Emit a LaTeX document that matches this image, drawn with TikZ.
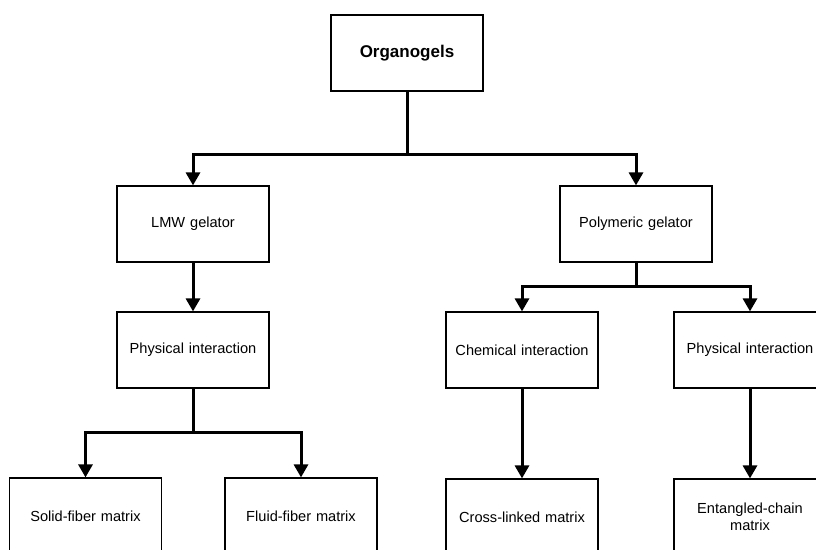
\documentclass[tikz,border=0pt]{standalone}
\usepackage{fontspec}
\setmainfont{Liberation Sans}
\usetikzlibrary{arrows.meta}

\begin{document}
\begin{tikzpicture}[x=1pt, y=-1pt,
		box/.style={draw, line width=1.2pt, minimum width=152pt, minimum height=76pt, text width=134pt, align=center, inner sep=0pt, font=\fontsize{14.6}{17}\selectfont},
		link/.style={line width=3pt, -{Triangle[width=14pt, length=13pt]}}]
		\useasboundingbox ( 0, 0 ) rectangle ( 816, 549 );
		\clip ( 0, 0 ) rectangle ( 816, 549 );

		% корень
		\node [box, font=\fontsize{17}{20}\selectfont\bfseries] (org) at ( 407, 53 ) {Organogels};

		% гелеобразователи
		\node [box] (lmw) at ( 193, 224 ) {LMW gelator};
		\node [box] (poly) at ( 636, 224 ) {Polymeric gelator};

		% взаимодействия
		\node [box] (phys1) at ( 193, 350 ) {Physical interaction};
		\node [box] (chem) at ( 522, 350 ) {Chemical interaction};
		\node [box] (phys2) at ( 750, 350 ) {Physical interaction};

		% матрицы
		\node [box] (solid) at ( 85.5, 516 ) {Solid-fiber matrix};
		\node [box] (fluid) at ( 301, 516 ) {Fluid-fiber matrix};
		\node [box] (cross) at ( 522, 517 ) {Cross-linked matrix};
		\node [box] (entangled) at ( 750, 517 ) {Entangled-chain\\matrix};

		% точки ветвления
		\coordinate (orgfork) at ( 407, 154 );
		\coordinate (physfork) at ( 193, 432 );
		\coordinate (polyfork) at ( 636, 286 );

		% связи
		\draw [link] (org.south) -- (orgfork) -| (lmw.north);
		\draw [link] (orgfork) -| (poly.north);
		\draw [link] (lmw.south) -- (phys1.north);
		\draw [link] (poly.south) -- (polyfork) -| (chem.north);
		\draw [link] (polyfork) -| (phys2.north);
		\draw [link] (phys1.south) -- (physfork) -| (solid.north);
		\draw [link] (physfork) -| (fluid.north);
		\draw [link] (chem.south) -- (cross.north);
		\draw [link] (phys2.south) -- (entangled.north);
	\end{tikzpicture}
\end{document}
